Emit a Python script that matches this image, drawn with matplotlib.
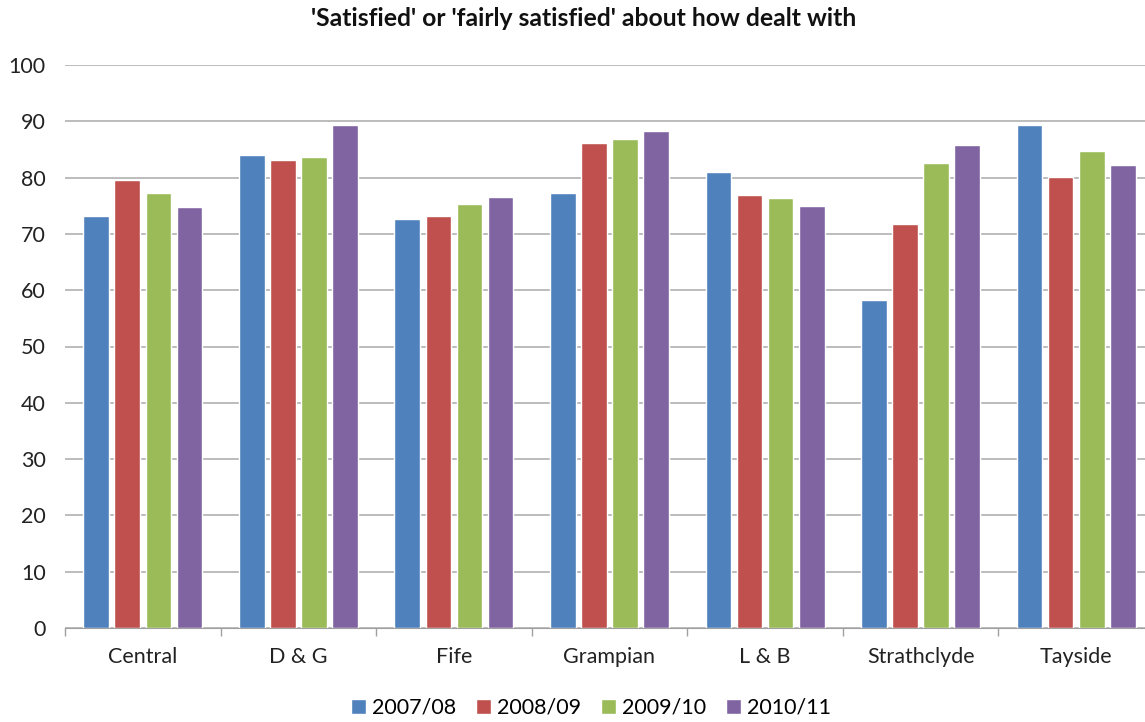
import matplotlib
matplotlib.use("Agg")
import matplotlib.pyplot as plt
import numpy as np

plt.rcParams['font.family'] = ['Lato', 'DejaVu Sans']

regions = ["Central", "D & G", "Fife", "Grampian", "L & B", "Strathclyde", "Tayside"]
years = ["2007/08", "2008/09", "2009/10", "2010/11"]
v2007 = [73.1, 84.0, 72.7, 77.2, 81.0, 58.2, 89.4]
v2008 = [79.5, 83.2, 73.1, 86.1, 76.9, 71.7, 80.1]
v2009 = [77.2, 83.7, 75.3, 86.9, 76.4, 82.6, 84.8]
v2010 = [74.8, 89.3, 76.6, 88.3, 75.0, 85.8, 82.3]
colors = ["#4F81BD", "#C0504D", "#9BBB59", "#8064A2"]

fig = plt.figure(figsize=(11.45, 7.22), dpi=100)
ax = fig.add_axes([65 / 1145, 1 - 628 / 722, 1089 / 1145, 563 / 722])

x = np.arange(len(regions))
step = 0.2
for i, (vals, col, lab) in enumerate(zip([v2007, v2008, v2009, v2010], colors, years)):
    ax.bar(x + (i - 1.5) * step, vals, width=0.165, color=col, edgecolor="white",
           linewidth=1.0, label=lab, zorder=3)

ax.set_xlim(-0.5, len(regions) - 0.5)
ax.set_ylim(0, 100)
ax.set_yticks(range(0, 101, 10))
ax.set_xticks(x)
ax.set_xticklabels(regions)
ax.set_xticks(np.arange(-0.5, len(regions)), minor=True)
ax.tick_params(axis="x", which="major", length=0, pad=14, labelsize=15.5, colors="#222222")
ax.tick_params(axis="x", which="minor", length=6, color="#a0a0a0", width=1)
ax.tick_params(axis="y", length=0, pad=14, labelsize=15.5, colors="#222222")
ax.grid(axis="y", color="#b0b0b0", linewidth=1.2, zorder=0)
for s in ["top", "right", "left"]:
    ax.spines[s].set_visible(False)
ax.spines["bottom"].set_color("#a0a0a0")
ax.spines["bottom"].set_zorder(4)

fig.text(584 / 1145, 1 - 18 / 722, "'Satisfied' or 'fairly satisfied' about how dealt with",
         ha="center", va="center", fontsize=17.8, fontweight="bold", color="#111111")

fig.legend(loc="center", bbox_to_anchor=(591 / 1145, 1 - 708 / 722), ncol=4, frameon=False,
           fontsize=15.5, handlelength=0.7, handleheight=0.7, handletextpad=0.3,
           columnspacing=0.9)

fig.savefig("out.png", dpi=100)
